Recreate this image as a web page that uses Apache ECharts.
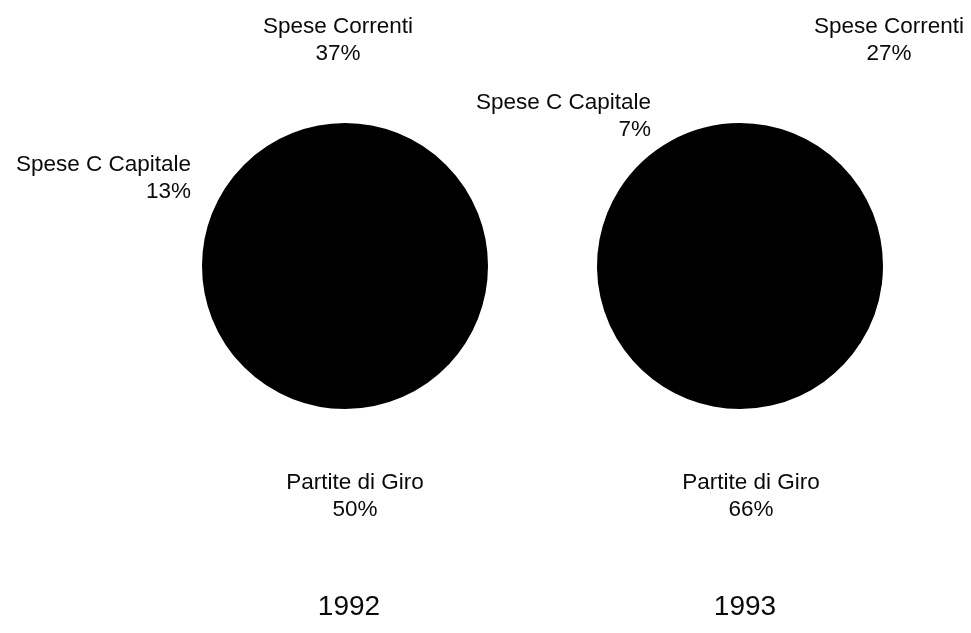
<!DOCTYPE html>
<html>
<head>
<meta charset="utf-8">
<script src="https://cdn.jsdelivr.net/npm/echarts@6/dist/echarts.min.js"></script>
<style>
html,body{margin:0;padding:0;background:#fff;}
#chart{width:971px;height:633px;}
</style>
</head>
<body>
<div id="chart"></div>
<script>
// ---- data ----
const years = ['1992', '1993'];
const categories = ['Spese Correnti', 'Spese C Capitale', 'Partite di Giro'];
const values1992 = [37, 13, 50];
const values1993 = [27, 7, 66];

// ---- layout (positions only) ----
const pieCenters = [[345, 266], [740, 266]];
const pieRadius = 142;
const labelPos = [
  [ {x: 338, y: 40, align: 'center'}, {x: 191, y: 178, align: 'right'}, {x: 355, y: 496, align: 'center'} ],
  [ {x: 889, y: 40, align: 'center'}, {x: 651, y: 116, align: 'right'}, {x: 751, y: 496, align: 'center'} ]
];
const yearX = [344, 740];

const font = '"Liberation Sans", Arial, Helvetica, sans-serif';
const allValues = [values1992, values1993];

const chart = echarts.init(document.getElementById('chart'), null, {renderer: 'canvas'});

const series = allValues.map((vals, si) => ({
  type: 'pie',
  center: pieCenters[si],
  radius: pieRadius,
  startAngle: 90,
  clockwise: true,
  animation: false,
  silent: true,
  avoidLabelOverlap: false,
  data: categories.map((c, i) => ({name: c, value: vals[i]})),
  itemStyle: {color: '#000', borderColor: '#000', borderWidth: 2, borderJoin: 'round'},
  label: {
    show: true,
    position: 'outside',
    formatter: '{b}\n{c}%',
    color: '#0a0a0a',
    fontFamily: font,
    fontSize: 22.5,
    lineHeight: 27,
    overflow: 'none'
  },
  labelLine: {show: false},
  labelLayout: function (p) {
    const lp = labelPos[si][p.dataIndex];
    return {x: lp.x, y: lp.y, align: lp.align, verticalAlign: 'middle', hideOverlap: false};
  },
  emphasis: {disabled: true}
}));

chart.setOption({
  backgroundColor: '#fff',
  title: years.map((y, i) => ({
    text: y,
    left: yearX[i],
    top: 588,
    textAlign: 'center',
    textStyle: {fontFamily: font, fontSize: 28, fontWeight: 'normal', color: '#0a0a0a'}
  })),
  series: series
});
</script>
</body>
</html>
